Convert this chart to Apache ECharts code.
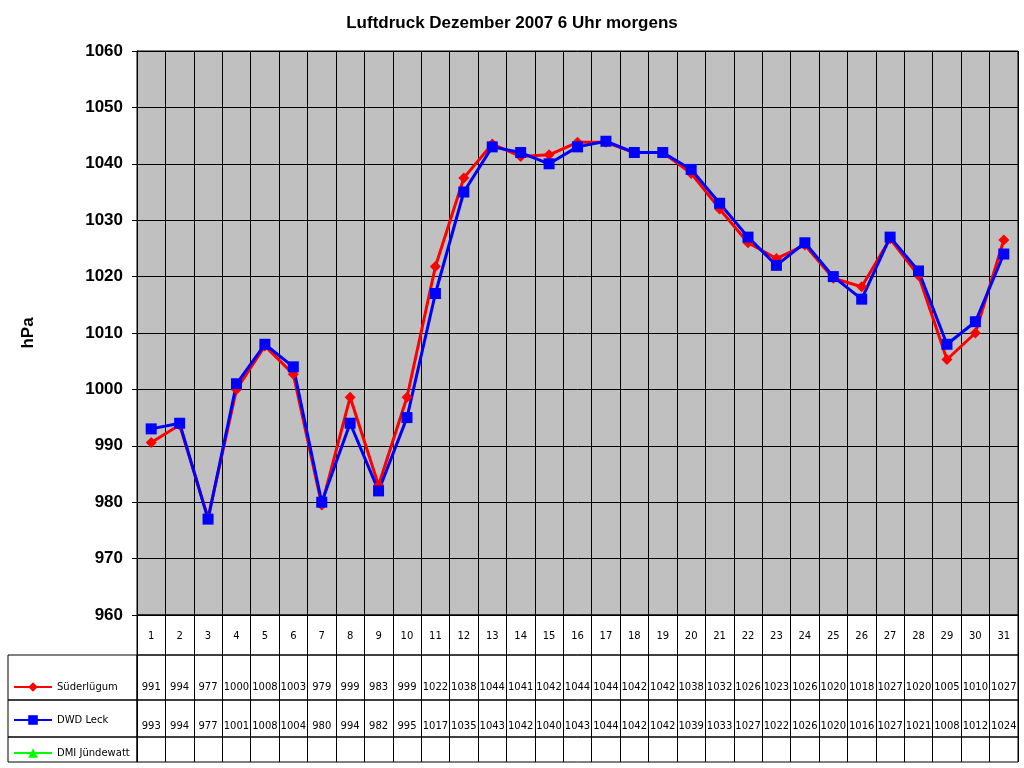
<!DOCTYPE html>
<html><head><meta charset="utf-8">
<script src="https://cdn.jsdelivr.net/npm/echarts@6/dist/echarts.min.js"></script>
<style>html,body{margin:0;padding:0;background:#fff}#chart{width:1024px;height:768px}</style>
</head><body><div id="chart"></div>
<script>
const days = ['1','2','3','4','5','6','7','8','9','10','11','12','13','14','15','16','17','18','19','20','21','22','23','24','25','26','27','28','29','30','31'];
// plotted values (table shows rounded)
const suederPlot = [990.6,993.7,977.2,1000,1007.7,1002.7,979.5,998.6,983,998.6,1021.8,1037.5,1043.5,1041.3,1041.6,1043.8,1043.8,1042,1042,1038.3,1032,1026,1023.2,1025.6,1019.7,1018.2,1026.7,1020.2,1005.3,1010,1026.5];
const suederTable = [991,994,977,1000,1008,1003,979,999,983,999,1022,1038,1044,1041,1042,1044,1044,1042,1042,1038,1032,1026,1023,1026,1020,1018,1027,1020,1005,1010,1027];
const dwd = [993,994,977,1001,1008,1004,980,994,982,995,1017,1035,1043,1042,1040,1043,1044,1042,1042,1039,1033,1027,1022,1026,1020,1016,1027,1021,1008,1012,1024];
const dmi = days.map(() => null);

const L = 137, R = 6;
const FONT = 'Liberation Sans';

function rowAxis(gi, values, margin) {
  return {
    type: 'category', gridIndex: gi, data: days, boundaryGap: true,
    axisLine: { show: false }, axisTick: { show: false },
    splitLine: { show: true, lineStyle: { color: '#000', width: 1 } },
    axisLabel: { inside: true, margin: margin, interval: 0, fontSize: 10, fontFamily: 'DejaVu Sans', color: '#000',
      formatter: (v, i) => values ? (values[i] == null ? '' : String(values[i])) : v },
  };
}
function rowY(gi) { return { type: 'value', gridIndex: gi, min: 0, max: 1, show: false }; }

const chart = echarts.init(document.getElementById('chart'));
chart.setOption({
  animation: false,
  title: { text: 'Luftdruck Dezember 2007 6 Uhr morgens', left: 'center', top: 10,
    textStyle: { fontFamily: FONT, fontSize: 17, fontWeight: 'bold', color: '#000' } },
  legend: {
    orient: 'vertical', left: 8, top: 677, itemGap: 23, itemWidth: 38, itemHeight: 12,
    textStyle: { fontFamily: 'DejaVu Sans', fontSize: 10, color: '#000' },
    data: ['Süderlügum', 'DWD Leck', 'DMI Jündewatt'],
  },
  grid: [
    { left: L, right: R, top: 51, height: 564, show: true, backgroundColor: '#c0c0c0', borderColor: '#000', borderWidth: 1 },
    { left: L, right: R, top: 615, height: 40, show: true, borderColor: '#000', borderWidth: 1 },
    { left: L, right: R, top: 655, height: 45, show: true, borderColor: '#000', borderWidth: 1 },
    { left: L, right: R, top: 700, height: 37, show: true, borderColor: '#000', borderWidth: 1 },
    { left: L, right: R, top: 737, height: 25, show: true, borderColor: '#000', borderWidth: 1 },
  ],
  xAxis: [
    { type: 'category', gridIndex: 0, data: days, boundaryGap: true, axisLabel: { show: false },
      axisTick: { show: false }, axisLine: { lineStyle: { color: '#000' } },
      splitLine: { show: true, lineStyle: { color: '#000' } } },
    rowAxis(1, null, 14),
    rowAxis(2, suederTable, 8),
    rowAxis(3, dwd, 6),
    rowAxis(4, dmi, 6),
  ],
  yAxis: [
    { type: 'value', gridIndex: 0, min: 960, max: 1060, interval: 10, name: 'hPa', nameLocation: 'middle', nameGap: 100,
      nameTextStyle: { fontFamily: FONT, fontSize: 17, fontWeight: 'bold', color: '#000' },
      axisLine: { show: true, lineStyle: { color: '#000' } }, axisTick: { show: true, length: 5 },
      axisLabel: { fontFamily: FONT, fontSize: 17, fontWeight: 'bold', color: '#000', margin: 14, formatter: v => String(v) },
      splitLine: { lineStyle: { color: '#000' } } },
    rowY(1), rowY(2), rowY(3), rowY(4),
  ],
  graphic: [
    { type: 'rect', shape: { x: 8, y: 655, width: 129, height: 45 }, style: { fill: 'none', stroke: '#000' } },
    { type: 'rect', shape: { x: 8, y: 700, width: 129, height: 37 }, style: { fill: 'none', stroke: '#000' } },
    { type: 'rect', shape: { x: 8, y: 737, width: 129, height: 25 }, style: { fill: 'none', stroke: '#000' } },
  ],
  series: [
    { name: 'Süderlügum', type: 'line', xAxisIndex: 0, yAxisIndex: 0, data: suederPlot,
      symbol: 'diamond', symbolSize: 11, lineStyle: { color: '#ff0000', width: 3 }, itemStyle: { color: '#ff0000' } },
    { name: 'DWD Leck', type: 'line', xAxisIndex: 0, yAxisIndex: 0, data: dwd,
      symbol: 'rect', symbolSize: 11, lineStyle: { color: '#0000ff', width: 3 }, itemStyle: { color: '#0000ff' } },
    { name: 'DMI Jündewatt', type: 'line', xAxisIndex: 0, yAxisIndex: 0, data: dmi,
      symbol: 'triangle', symbolSize: 11, lineStyle: { color: '#00ff00', width: 3 }, itemStyle: { color: '#00ff00' } },
  ],
});
</script></body></html>
